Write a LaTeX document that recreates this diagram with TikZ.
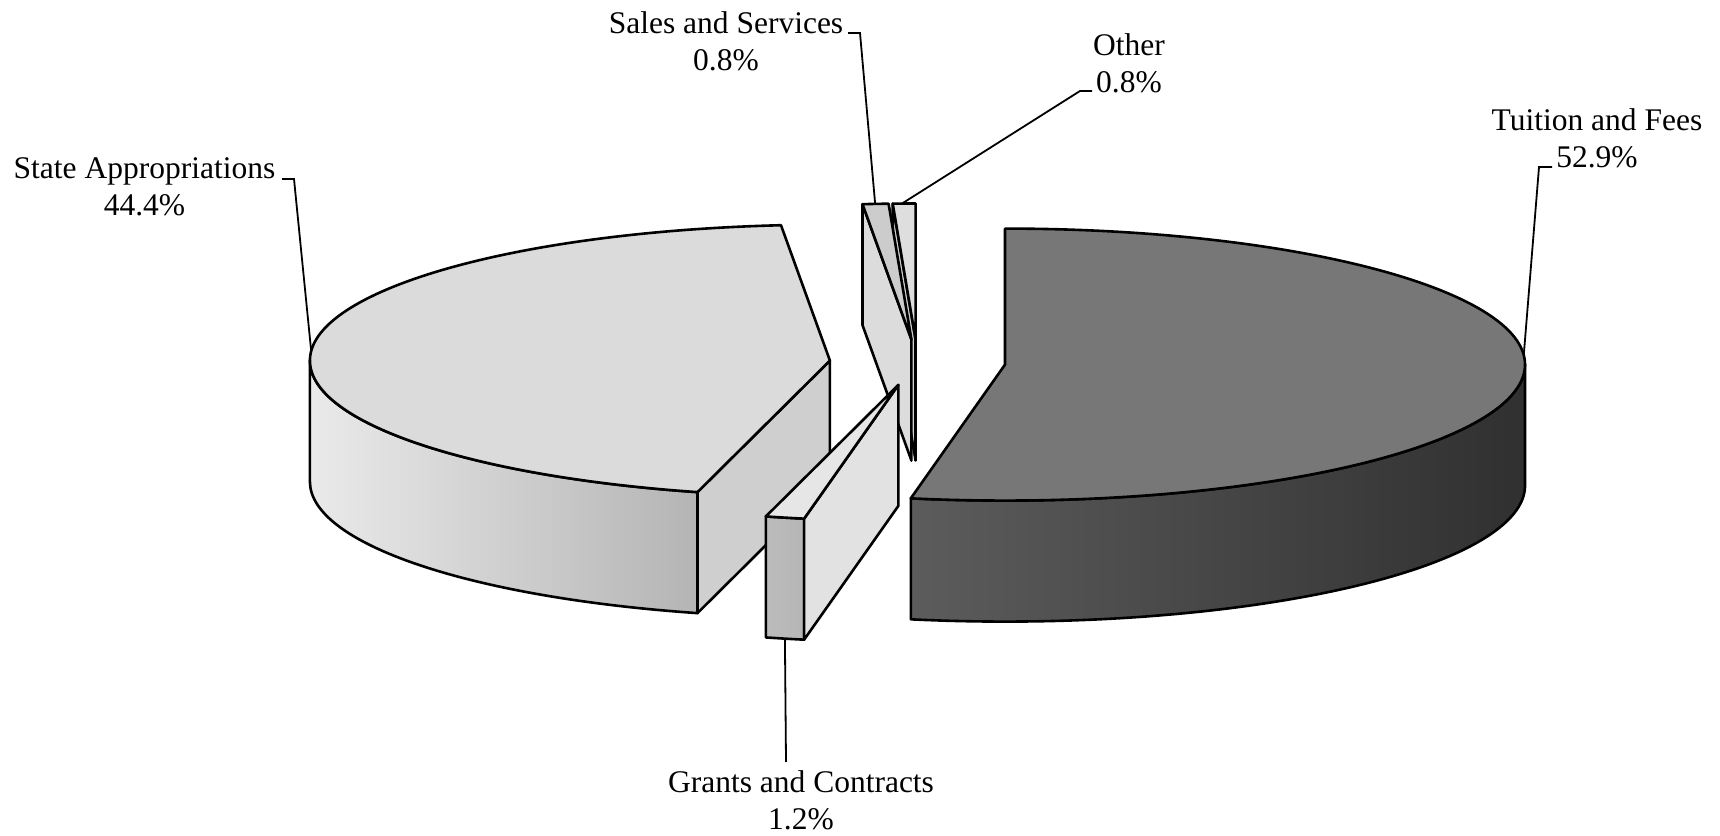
\documentclass[tikz,border=0pt]{standalone}
\usepackage{fontspec}
\setmainfont{Liberation Serif}
\definecolor{tuittop}{HTML}{777777}
\definecolor{tuitL}{HTML}{5C5C5C}
\definecolor{tuitM}{HTML}{343434}
\definecolor{tuitR}{HTML}{303030}
\definecolor{sttop}{HTML}{DBDBDB}
\definecolor{stL}{HTML}{EAEAEA}
\definecolor{stR}{HTML}{A2A2A2}
\definecolor{stface}{HTML}{CFCFCF}
\definecolor{grtop}{HTML}{E6E6E6}
\definecolor{grL}{HTML}{BBBBBB}
\definecolor{grR}{HTML}{ABABAB}
\definecolor{grface}{HTML}{E2E2E2}
\definecolor{satop}{HTML}{CCCCCC}
\definecolor{saface}{HTML}{DCDCDC}
\definecolor{ottop}{HTML}{DEDEDE}
\definecolor{otface}{HTML}{D0D0D0}
\begin{document}
\begin{tikzpicture}[x=1pt,y=1pt,
  face/.style={draw=black, line width=2.6pt, line join=round},
  lead/.style={draw=black, line width=1.8pt},
  lbl/.style={font={\fontsize{31.5}{36.5}\selectfont}, align=center, inner sep=0pt, anchor=north}]
\useasboundingbox (0,0) rectangle (1720,835);
\def\rx{520}
\def\ry{136}
\def\th{121}
% slice apexes, pushed out along the bisectors
\coordinate (tuitA) at ({917.5+87.88*cos(-5.22)},{472.5+22.98*sin(-5.22)});
\coordinate (grantA) at ({917.5+87.88*cos(257.4)},{472.5+22.98*sin(257.4)});
\coordinate (stateA) at ({917.5+87.88*cos(175.32)},{472.5+22.98*sin(175.32)});
\coordinate (salesA) at ({917.5+87.88*cos(93.96)},{472.5+22.98*sin(93.96)});
\coordinate (otherA) at ({917.5+87.88*cos(91.26)},{472.5+22.98*sin(91.26)});
% Other
\draw[face, fill=otface] (otherA) -- ++({\rx*cos(92.52)},{\ry*sin(92.52)}) -- ++(0,-\th) -- ++({-\rx*cos(92.52)},{-\ry*sin(92.52)}) -- cycle;
\draw[face, fill=ottop] (otherA) -- ++(0,\ry) arc[start angle=90,end angle=92.52,x radius=\rx,y radius=\ry] -- cycle;
\draw[face] (otherA) -- ++(0,-\th);
% Sales and Services
\draw[face, fill=saface] (salesA) -- ++({\rx*cos(95.4)},{\ry*sin(95.4)}) -- ++(0,-\th) -- ++({-\rx*cos(95.4)},{-\ry*sin(95.4)}) -- cycle;
\draw[face, fill=satop] (salesA) -- ++({\rx*cos(92.52)},{\ry*sin(92.52)}) arc[start angle=92.52,end angle=95.4,x radius=\rx,y radius=\ry] -- cycle;
% State Appropriations
\draw[face, left color=stL, right color=stR] (stateA) ++(-\rx,0) arc[start angle=180,end angle=255.24,x radius=\rx,y radius=\ry] -- ++(0,-\th) arc[start angle=255.24,end angle=180,x radius=\rx,y radius=\ry] -- cycle;
\draw[face, fill=stface] (stateA) -- ++({\rx*cos(255.24)},{\ry*sin(255.24)}) -- ++(0,-\th) -- ++({-\rx*cos(255.24)},{-\ry*sin(255.24)}) -- cycle;
\draw[face, fill=sttop] (stateA) -- ++({\rx*cos(95.4)},{\ry*sin(95.4)}) arc[start angle=95.4,end angle=255.24,x radius=\rx,y radius=\ry] -- cycle;
% Tuition and Fees
\draw[face, left color=tuitL, middle color=tuitM, right color=tuitR] (tuitA) ++(\rx,0) arc[start angle=0,end angle=-100.44,x radius=\rx,y radius=\ry] -- ++(0,-\th) arc[start angle=-100.44,end angle=0,x radius=\rx,y radius=\ry] -- cycle;
\draw[face, fill=tuittop] (tuitA) -- ++(0,\ry) arc[start angle=90,end angle=-100.44,x radius=\rx,y radius=\ry] -- cycle;
% Grants and Contracts
\draw[face, left color=grL, right color=grR] (grantA) ++({\rx*cos(255.24)},{\ry*sin(255.24)}) arc[start angle=255.24,end angle=259.56,x radius=\rx,y radius=\ry] -- ++(0,-\th) arc[start angle=259.56,end angle=255.24,x radius=\rx,y radius=\ry] -- cycle;
\draw[face, fill=grface] (grantA) -- ++({\rx*cos(259.56)},{\ry*sin(259.56)}) -- ++(0,-\th) -- ++({-\rx*cos(259.56)},{-\ry*sin(259.56)}) -- cycle;
\draw[face, fill=grtop] (grantA) -- ++({\rx*cos(255.24)},{\ry*sin(255.24)}) arc[start angle=255.24,end angle=259.56,x radius=\rx,y radius=\ry] -- cycle;
% leader ends on the slices
\path (stateA) ++({\rx*cos(176)},{\ry*sin(176)}) coordinate (stateP);
\path (salesA) ++({\rx*cos(94)},{\ry*sin(94)}) coordinate (salesP);
\path (otherA) ++({\rx*cos(91.5)},{\ry*sin(91.5)}) coordinate (otherP);
\path (tuitA) ++({\rx*cos(4)},{\ry*sin(4)}) coordinate (tuitP);
\path (grantA) ++({\rx*cos(257.4)},{\ry*sin(257.4)-\th}) coordinate (grantP);
% labels
\node[lbl] (stateLbl) at (144.5,677.5) {State Appropriations\\44.4\%};
\node[lbl] (salesLbl) at (726,823.5) {Sales and Services\\0.8\%};
\node[lbl] (otherLbl) at (1129,801.5) {Other\\0.8\%};
\node[lbl] (tuitLbl) at (1597,726.5) {Tuition and Fees\\52.9\%};
\node[lbl] (grantLbl) at (801,64.5) {Grants and Contracts\\1.2\%};
\coordinate (stateK) at (282,656);
\coordinate (salesK) at (848,802);
\coordinate (otherK) at (1092,744);
\coordinate (tuitK) at (1552,668);
\coordinate (grantK) at (786,73);
\draw[lead] (stateK) -- ++(12,0) -- (stateP);
\draw[lead] (salesK) -- ++(12,0) -- (salesP);
\draw[lead] (otherK) -- ++(-12,0) -- (otherP);
\draw[lead] (tuitK) -- ++(-13,0) -- (tuitP);
\draw[lead] (grantP) -- (grantK);
\end{tikzpicture}
\end{document}
